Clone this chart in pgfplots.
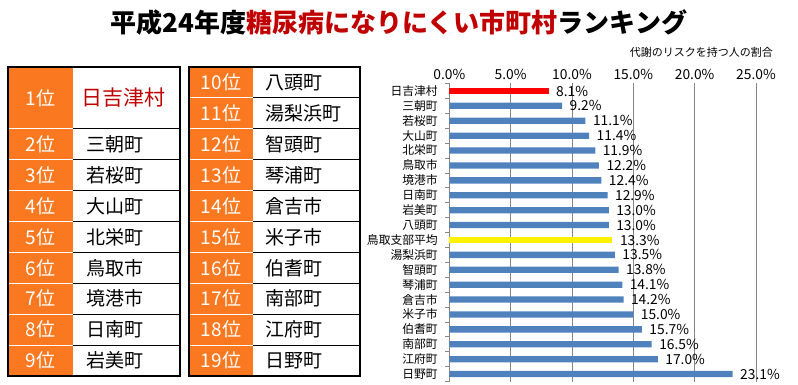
\documentclass[border=0pt]{standalone}
\usepackage{fontspec}
\setmainfont{Noto Sans CJK JP}
\usepackage{pgfplots}
\pgfplotsset{compat=1.18}
\definecolor{rankorange}{RGB}{250,121,32}
\definecolor{darkred}{RGB}{192,0,0}
\definecolor{barblue}{RGB}{79,129,189}
\definecolor{gridgray}{RGB}{134,134,134}
\begin{document}
\begin{tikzpicture}[x=1pt,y=1pt]
\useasboundingbox (0,0) rectangle (798,385);
% title
\node[font=\fontsize{26}{28}\selectfont\bfseries, anchor=center, inner sep=0pt] at (399,362)
  {平成24年度\textcolor{darkred}{糖尿病になりにくい市町村}ランキング};
% tables
\fill[rankorange] (8,9) rectangle (73,318);
\fill[rankorange] (189,9) rectangle (253,318);
\foreach \k in {2,...,9}{
  \draw[white, line width=0.8pt] (8,318-30.9*\k) -- (73,318-30.9*\k);
  \draw[black, line width=0.8pt] (73,318-30.9*\k) -- (180,318-30.9*\k);
}
\foreach \k in {1,...,9}{
  \draw[white, line width=0.8pt] (189,318-30.9*\k) -- (253,318-30.9*\k);
  \draw[black, line width=0.8pt] (253,318-30.9*\k) -- (360,318-30.9*\k);
}
\draw[black, line width=1.3pt] (8,9) rectangle (180,318);
\draw[black, line width=1.3pt] (189,9) rectangle (360,318);
% left table text
\node[white, font=\fontsize{19}{21}\selectfont] at (40.5,287.1) {1位};
\node[darkred, font=\fontsize{21}{23}\selectfont, anchor=west, inner sep=0pt] at (81,287.1) {日吉津村};
\foreach \r/\n in {2/三朝町,3/若桜町,4/大山町,5/北栄町,6/鳥取市,7/境港市,8/日南町,9/岩美町}{
  \node[white, font=\fontsize{19}{21}\selectfont] at (40.5,{318-30.9*(\r+0.5)}) {{\r}位};
  \node[black, font=\fontsize{19}{21}\selectfont, anchor=west, inner sep=0pt] at (86,{318-30.9*(\r+0.5)}) {\n};
}
\foreach \r/\n in {10/八頭町,11/湯梨浜町,12/智頭町,13/琴浦町,14/倉吉市,15/米子市,16/伯耆町,17/南部町,18/江府町,19/日野町}{
  \node[white, font=\fontsize{19}{21}\selectfont] at (221,{318-30.9*(\r-10+0.5)}) {{\r}位};
  \node[black, font=\fontsize{19}{21}\selectfont, anchor=west, inner sep=0pt] at (265,{318-30.9*(\r-10+0.5)}) {\n};
}
% axis title
\node[font=\fontsize{11}{13}\selectfont, anchor=east, inner sep=0pt] at (773,333) {代謝のリスクを持つ人の割合};
\begin{axis}[
  at={(449.3pt,3.5pt)}, anchor=south west,
  scale only axis, width=306.7pt, height=298pt,
  /pgf/number format/assume math mode=true,
  xbar, bar width=6.3pt,
  xmin=0, xmax=25,
  ymin=-0.5, ymax=19.5, y dir=reverse,
  xtick={0,5,10,15,20,25},
  xticklabels={0.0\%,5.0\%,10.0\%,15.0\%,20.0\%,25.0\%},
  axis x line*=top, axis y line*=left,
  x axis line style={draw=none},
  y axis line style={gridgray, line width=0.8pt},
  xmajorgrids, grid style={gridgray, line width=0.8pt},
  ytick={0,...,19},
  yticklabels={日吉津村,三朝町,若桜町,大山町,北栄町,鳥取市,境港市,日南町,岩美町,八頭町,鳥取支部平均,湯梨浜町,智頭町,琴浦町,倉吉市,米子市,伯耆町,南部町,江府町,日野町},
  minor ytick={-0.5,0.5,...,19.5},
  major tick length=0pt, minor tick length=4pt, tick align=outside,
  minor tick style={gridgray, line width=0.8pt},
  yticklabel style={font=\fontsize{11.8}{13}\selectfont, xshift=-8pt},
  xticklabel style={font=\fontsize{13.8}{15}\selectfont},
  nodes near coords={\pgfmathprintnumber[fixed,fixed zerofill,precision=1]{\pgfplotspointmeta}\%},
  nodes near coords style={anchor=west, font=\fontsize{13.8}{15}\selectfont, black, xshift=4pt},
  clip=false,
]
\addplot[fill=red, draw=none, bar shift=0pt] coordinates {(8.1,0)};
\addplot[fill=barblue, draw=none, bar shift=0pt] coordinates {
 (9.2,1) (11.1,2) (11.4,3) (11.9,4) (12.2,5) (12.4,6) (12.9,7) (13.0,8) (13.0,9)
 (13.5,11) (13.8,12) (14.1,13) (14.2,14) (15.0,15) (15.7,16) (16.5,17) (17.0,18) (23.1,19)};
\addplot[fill=yellow, draw=none, bar shift=0pt] coordinates {(13.3,10)};
\end{axis}
\end{tikzpicture}
\end{document}
